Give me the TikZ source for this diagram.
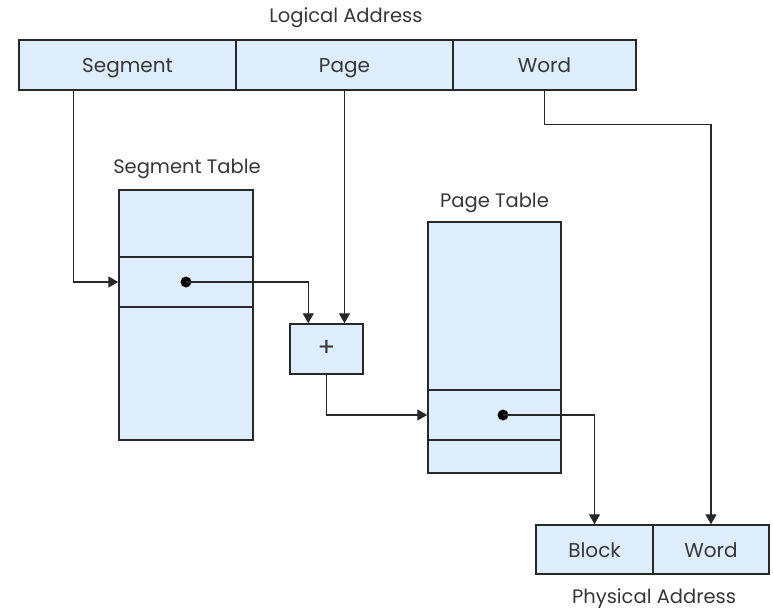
\documentclass[tikz,border=0pt]{standalone}
\usepackage{fontspec}
\setmainfont{Poppins}
\usetikzlibrary{arrows.meta,calc}
\definecolor{cellfill}{RGB}{222,237,251}
\definecolor{ink}{RGB}{40,40,40}
\definecolor{txt}{RGB}{55,55,55}
\begin{document}
\begin{tikzpicture}[x=1pt,y=-1pt,
  cell/.style={draw=ink,line width=1.5pt,fill=cellfill,inner sep=0pt,
    text=txt,font=\fontsize{20}{24}\selectfont,text height=16pt,text depth=0pt},
  lbl/.style={text=txt,font=\fontsize{19.5}{23}\selectfont,inner sep=0pt,anchor=base},
  arr/.style={draw=ink,line width=1.4pt,-{Triangle[length=10pt,width=11pt]}},
  dotmark/.style={circle,fill=black,inner sep=0pt,minimum size=11pt}]
\useasboundingbox (0,0) rectangle (773,610);

% logical address fields
\node[cell,minimum width=217pt,minimum height=50pt] (seg) at (127.5,65) {Segment};
\node[cell,minimum width=217pt,minimum height=50pt] (page) at (344.5,65) {Page};
\node[cell,minimum width=183pt,minimum height=50pt] (word) at (544.5,65) {Word};
\node[lbl] (la) at (346,23) {Logical Address};

% segment table
\node[cell,minimum width=134pt,minimum height=67pt] (st1) at (186,223.5) {};
\node[cell,minimum width=134pt,minimum height=50pt] (st2) at (186,282) {};
\node[cell,minimum width=134pt,minimum height=133pt] (st3) at (186,373.5) {};
\node[lbl] (stl) at (187,173) {Segment Table};

% adder
\node[cell,minimum width=73pt,minimum height=50pt,font=\fontsize{26}{30}\selectfont,
  text height=15pt] (add) at (326.5,349) {+};

% page table
\node[cell,minimum width=133pt,minimum height=168pt] (pt1) at (494.5,306) {};
\node[cell,minimum width=133pt,minimum height=50pt] (pt2) at (494.5,415) {};
\node[cell,minimum width=133pt,minimum height=33pt] (pt3) at (494.5,456.5) {};
\node[lbl] (ptl) at (494.5,207) {Page Table};

% physical address fields
\node[cell,minimum width=117pt,minimum height=49pt] (pb) at (594.5,549.5) {Block};
\node[cell,minimum width=116pt,minimum height=49pt] (pw) at (711,549.5) {Word};
\node[lbl] (pa) at (654,603) {Physical Address};

% pointer dots
\node[dotmark] (d1) at (st2.center) {};
\node[dotmark] (d2) at (503,415) {};

% connectors
\coordinate (segtap) at ($(seg.south west)+(55,0)$);
\coordinate (addin) at ($(add.north west)+(19,0)$);
\coordinate (wordbend) at ($(word.south)+(0,34)$);

\draw[arr] (segtap) |- (st2.west);
\draw[arr] (d1.center) -| (addin);
\draw[arr] (page.south) -- (page.south |- add.north);
\draw[arr] (add.south) |- (pt2.west);
\draw[arr] (d2.center) -| (pb.north);
\draw[arr] (word.south) -- (wordbend) -| (pw.north);
\end{tikzpicture}
\end{document}
